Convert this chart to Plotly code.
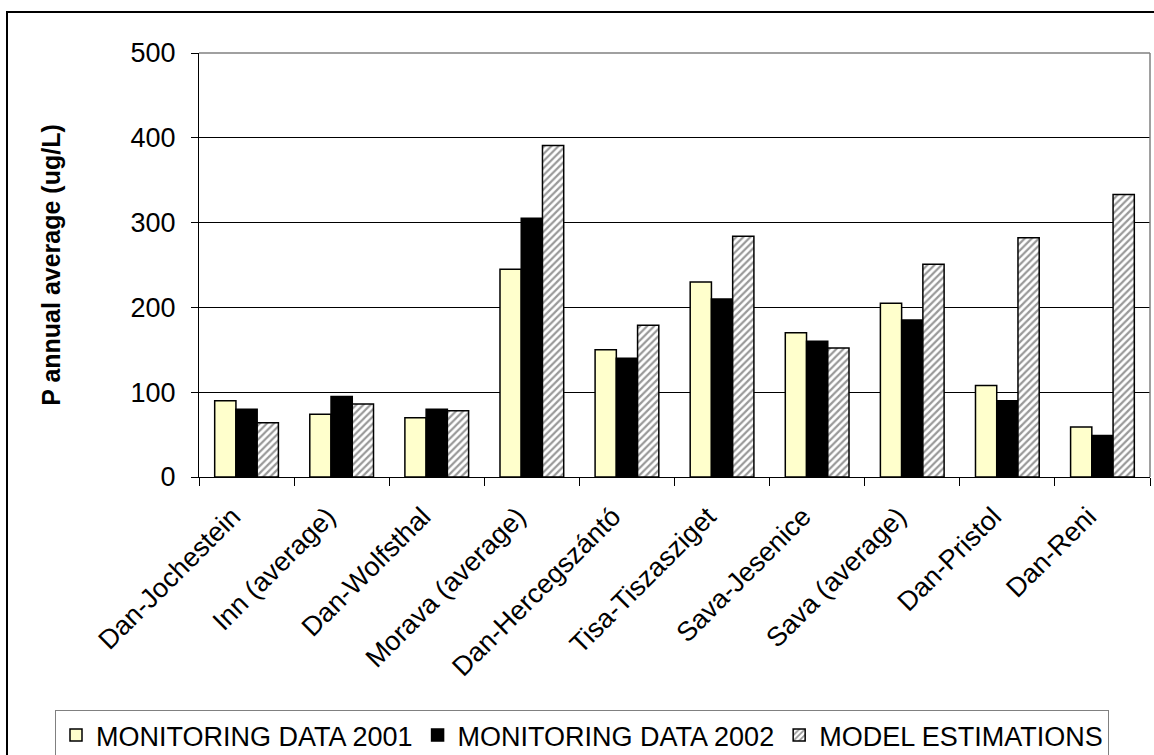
import plotly.graph_objects as go

categories = ["Dan-Jochestein", "Inn (average)", "Dan-Wolfsthal", "Morava (average)",
              "Dan-Hercegszántó", "Tisa-Tiszasziget", "Sava-Jesenice", "Sava (average)",
              "Dan-Pristol", "Dan-Reni"]
monitoring_2001 = [90, 74, 70, 245, 150, 230, 170, 205, 108, 59]
monitoring_2002 = [80, 95, 80, 305, 140, 210, 160, 185, 90, 49]
model_estimations = [64, 86, 78, 391, 179, 284, 152, 251, 282, 333]
y_ticks = [0, 100, 200, 300, 400, 500]

FONT = "Liberation Sans, Arial, sans-serif"

# plot area in pixels (used only to place decorations in paper coordinates)
L, T, W, H = 199, 53, 951, 424

fig = go.Figure()
fig.add_trace(go.Bar(
    name="MONITORING DATA 2001", x=categories, y=monitoring_2001,
    marker=dict(color="#FFFFCC", line=dict(color="black", width=1.5)),
))
fig.add_trace(go.Bar(
    name="MONITORING DATA 2002", x=categories, y=monitoring_2002,
    marker=dict(color="black", line=dict(color="black", width=1.5)),
))
fig.add_trace(go.Bar(
    name="MODEL ESTIMATIONS", x=categories, y=model_estimations,
    marker=dict(color="white", line=dict(color="black", width=1.5),
                pattern=dict(shape="/", fgcolor="#333333", bgcolor="white",
                             size=5, solidity=0.45)),
))

fig.update_layout(
    width=1154, height=755,
    margin=dict(l=L, r=1154 - L - W, t=T, b=755 - T - H, autoexpand=False),
    paper_bgcolor="white", plot_bgcolor="white",
    barmode="group", bargap=0.33, bargroupgap=0,
    font=dict(family=FONT, color="black", size=27),
    showlegend=True,
    legend=dict(
        orientation="h", xref="paper", yref="paper",
        x=(55 - L) / W, y=(T + H - 710) / H, xanchor="left", yanchor="top",
        bgcolor="white", bordercolor="#808080", borderwidth=1,
        font=dict(family=FONT, size=27, color="black"),
        itemwidth=30, tracegroupgap=0,
    ),
    xaxis=dict(
        type="category", tickangle=-45, tickson="boundaries",
        ticks="outside", ticklen=8, tickcolor="black", tickwidth=1,
        showline=True, linecolor="black", linewidth=1,
        showgrid=False, tickfont=dict(family=FONT, size=27, color="black"),
        ticklabelstandoff=12, ticklabelshift=-14,
    ),
    yaxis=dict(
        range=[0, 500], tickvals=y_ticks, ticks="outside", ticklen=7,
        tickcolor="black", tickwidth=1,
        showline=True, linecolor="black", linewidth=1,
        showgrid=True, gridcolor="black", gridwidth=1,
        zeroline=False,
        tickfont=dict(family=FONT, size=27, color="black"),
        ticklabelstandoff=10,
        title=dict(text="<b>P annual average (ug/L)</b>",
                   font=dict(family=FONT, size=25, color="black"), standoff=62),
    ),
    shapes=[
        # plot-area border (top & right, grey)
        dict(type="line", xref="paper", yref="paper", x0=0, x1=1, y0=1, y1=1,
             line=dict(color="#808080", width=1.5), layer="above"),
        dict(type="line", xref="paper", yref="paper", x0=1, x1=1, y0=0, y1=1,
             line=dict(color="#808080", width=1.5), layer="above"),
        # outer chart border
        dict(type="rect", xref="paper", yref="paper",
             x0=(7 - L) / W, x1=(1170 - L) / W,
             y0=(T + H - 780) / H, y1=(T + H - 12) / H,
             line=dict(color="black", width=2), layer="below"),
    ],
)

fig.write_html("out.html", config={"displayModeBar": False},
               post_script="document.body.style.margin='0';")
